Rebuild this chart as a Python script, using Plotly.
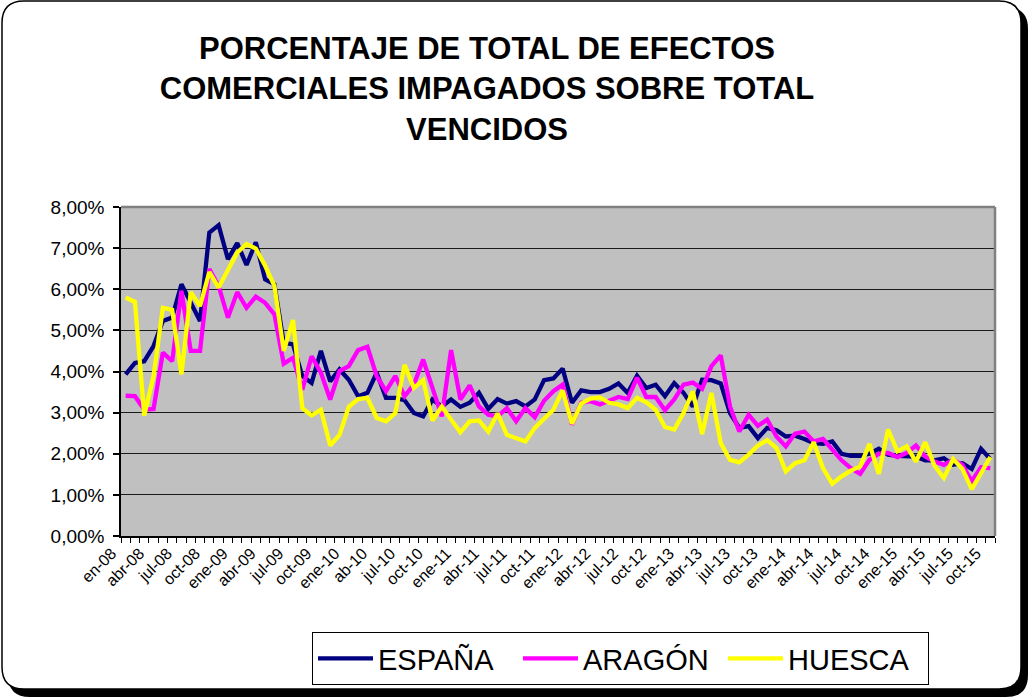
import plotly.graph_objects as go

TICK_LABELS = ["en-08", "abr-08", "jul-08", "oct-08", "ene-09", "abr-09", "jul-09", "oct-09",
               "ene-10", "ab-10", "jul-10", "oct-10", "ene-11", "abr-11", "jul-11", "oct-11",
               "ene-12", "abr-12", "jul-12", "oct-12", "ene-13", "abr-13", "jul-13", "oct-13",
               "ene-14", "abr-14", "jul-14", "oct-14", "ene-15", "abr-15", "jul-15", "oct-15"]

ESPANA = [3.93, 4.21, 4.25, 4.62, 5.23, 5.31, 6.12, 5.67, 5.23, 7.38,
          7.56, 6.73, 7.12, 6.59, 7.14, 6.24, 6.12, 4.70, 4.66, 3.89,
          3.72, 4.50, 3.76, 4.05, 3.80, 3.40, 3.48, 3.97, 3.36, 3.36,
          3.30, 2.99, 2.91, 3.32, 3.15, 3.32, 3.14, 3.24, 3.48, 3.09,
          3.33, 3.22, 3.28, 3.15, 3.32, 3.79, 3.83, 4.07, 3.24, 3.54,
          3.50, 3.50, 3.58, 3.71, 3.48, 3.90, 3.60, 3.68, 3.40, 3.72,
          3.48, 3.15, 3.80, 3.79, 3.71, 2.99, 2.63, 2.67, 2.38, 2.63,
          2.57, 2.42, 2.44, 2.36, 2.26, 2.24, 2.30, 2.00, 1.95, 1.95,
          2.00, 2.12, 1.98, 1.95, 1.93, 1.93, 1.84, 1.84, 1.89, 1.73,
          1.77, 1.63, 2.12, 1.87]

ARAGON = [3.41, 3.40, 3.07, 3.09, 4.46, 4.25, 5.96, 4.50, 4.50, 6.49,
          6.08, 5.31, 5.93, 5.55, 5.82, 5.67, 5.39, 4.19, 4.33, 3.56,
          4.37, 3.97, 3.32, 4.01, 4.13, 4.52, 4.60, 3.89, 3.52, 3.89,
          3.40, 3.68, 4.29, 3.60, 2.91, 4.52, 3.32, 3.66, 3.15, 2.95,
          2.91, 3.11, 2.79, 3.11, 2.89, 3.29, 3.52, 3.68, 2.71, 3.24,
          3.28, 3.20, 3.28, 3.38, 3.33, 3.85, 3.38, 3.38, 3.06, 3.32,
          3.68, 3.73, 3.58, 4.13, 4.39, 3.15, 2.54, 2.95, 2.68, 2.83,
          2.42, 2.18, 2.49, 2.54, 2.30, 2.36, 2.10, 1.84, 1.65, 1.51,
          1.85, 2.00, 2.02, 1.92, 2.02, 2.20, 1.93, 1.81, 1.73, 1.85,
          1.73, 1.33, 1.67, 1.65]

HUESCA = [5.80, 5.69, 2.93, 3.89, 5.55, 5.50, 3.93, 5.93, 5.59, 6.42,
          6.04, 6.45, 6.89, 7.10, 6.99, 6.57, 6.08, 4.50, 5.25, 3.11,
          2.93, 3.07, 2.20, 2.46, 3.14, 3.33, 3.36, 2.87, 2.79, 2.99,
          4.16, 3.60, 3.79, 2.81, 3.15, 2.83, 2.52, 2.79, 2.81, 2.54,
          2.98, 2.46, 2.38, 2.30, 2.63, 2.85, 3.07, 3.54, 2.73, 3.22,
          3.34, 3.37, 3.24, 3.20, 3.11, 3.36, 3.25, 3.07, 2.65, 2.59,
          2.99, 3.52, 2.48, 3.48, 2.26, 1.85, 1.79, 1.98, 2.20, 2.33,
          2.14, 1.57, 1.77, 1.84, 2.28, 1.65, 1.27, 1.45, 1.59, 1.69,
          2.24, 1.51, 2.59, 2.06, 2.18, 1.81, 2.28, 1.71, 1.41, 1.87,
          1.63, 1.14, 1.53, 1.92]

Y_TICKS = [0, 1, 2, 3, 4, 5, 6, 7, 8]

SERIES = [("ESPAÑA", ESPANA, "#000080"), ("ARAGÓN", ARAGON, "#FF00FF"), ("HUESCA", HUESCA, "#FFFF00")]

W, H = 1030, 699
L, R, T, B = 121, 995, 207, 536  # plot area in pixels

n = len(ESPANA)
xs = list(range(n))

fig = go.Figure()
for name, vals, color in SERIES:
    fig.add_trace(go.Scatter(x=xs, y=vals, mode="lines", name=name,
                             line=dict(color=color, width=4.3)))


def px(x):
    return (x - L) / (R - L)


def py(y):
    return (B - y) / (B - T)


def rounded_path(x0, y0, x1, y1, r):
    rx = r / (R - L)
    ry = r / (B - T)
    X0, X1 = px(x0), px(x1)
    Y0, Y1 = py(y0), py(y1)
    return (f"M {X0+rx},{Y0} L {X1-rx},{Y0} Q {X1},{Y0} {X1},{Y0-ry} "
            f"L {X1},{Y1+ry} Q {X1},{Y1} {X1-rx},{Y1} "
            f"L {X0+rx},{Y1} Q {X0},{Y1} {X0},{Y1+ry} "
            f"L {X0},{Y0-ry} Q {X0},{Y0} {X0+rx},{Y0} Z")


shapes = [
    dict(type="path", xref="paper", yref="paper", layer="below",
         path=rounded_path(8, 7, 1028, 697, 22), fillcolor="black", line=dict(width=0)),
    dict(type="path", xref="paper", yref="paper", layer="below",
         path=rounded_path(2, 1, 1021, 689, 22), fillcolor="white",
         line=dict(color="black", width=1.5)),
    dict(type="rect", xref="paper", yref="paper", layer="below",
         x0=0, x1=1, y0=0, y1=1, fillcolor="#C0C0C0", line=dict(width=0)),
    dict(type="line", xref="paper", yref="paper", x0=0, x1=1, y0=1, y1=1,
         line=dict(color="#808080", width=2.5)),
    dict(type="line", xref="paper", yref="paper", x0=1, x1=1, y0=0, y1=1,
         line=dict(color="#808080", width=2.5)),
]

FONT = "Liberation Sans, Arial, sans-serif"

fig.update_layout(
    width=W, height=H,
    margin=dict(l=L, r=W - R, t=T, b=H - B, pad=0, autoexpand=False),
    paper_bgcolor="white",
    plot_bgcolor="#C0C0C0",
    shapes=shapes,
    title=dict(text="PORCENTAJE DE TOTAL DE EFECTOS<br>COMERCIALES IMPAGADOS SOBRE TOTAL<br>VENCIDOS",
               x=487 / W, xanchor="center", xref="container",
               y=1 - 59 / H, yanchor="top", yref="container",
               font=dict(family=FONT, size=31, color="black", weight="bold")),
    font=dict(family=FONT, color="black"),
    showlegend=True,
    legend=dict(orientation="h", x=px(312), xanchor="left", y=py(632), yanchor="top",
                bgcolor="white", bordercolor="black", borderwidth=1,
                font=dict(family=FONT, size=29, color="black"),
                itemwidth=55, entrywidth=135, entrywidthmode="pixels", tracegroupgap=0),
    xaxis=dict(range=[-0.5, n - 0.5], tickmode="array",
               tickvals=[i * 3 for i in range(len(TICK_LABELS))], ticktext=TICK_LABELS,
               tickangle=-45, ticks="", showgrid=False, zeroline=False, automargin=False,
               showline=True, linecolor="black", linewidth=1.5,
               ticklabelshift=-14, ticklabelstandoff=0,
               tickfont=dict(family=FONT, size=16, color="black"),
               minor=dict(tickmode="array", tickvals=[i - 0.5 for i in range(n + 1)],
                          ticks="outside", ticklen=5, tickcolor="black", tickwidth=1,
                          showgrid=False),
               fixedrange=True),
    yaxis=dict(range=[0, 8], tickmode="array", tickvals=Y_TICKS, automargin=False,
               ticktext=[f"{v:.2f}%".replace(".", ",") for v in Y_TICKS],
               ticks="outside", ticklen=6, tickcolor="black", tickwidth=1.5,
               ticklabelstandoff=5,
               showgrid=True, gridcolor="#1a1a1a", gridwidth=1.2,
               zeroline=False, showline=True, linecolor="black", linewidth=1.5,
               tickfont=dict(family=FONT, size=19, color="black"),
               fixedrange=True),
)

fig.write_html("out.html", config={"displayModeBar": False},
               post_script="document.body.style.margin='0px';")
